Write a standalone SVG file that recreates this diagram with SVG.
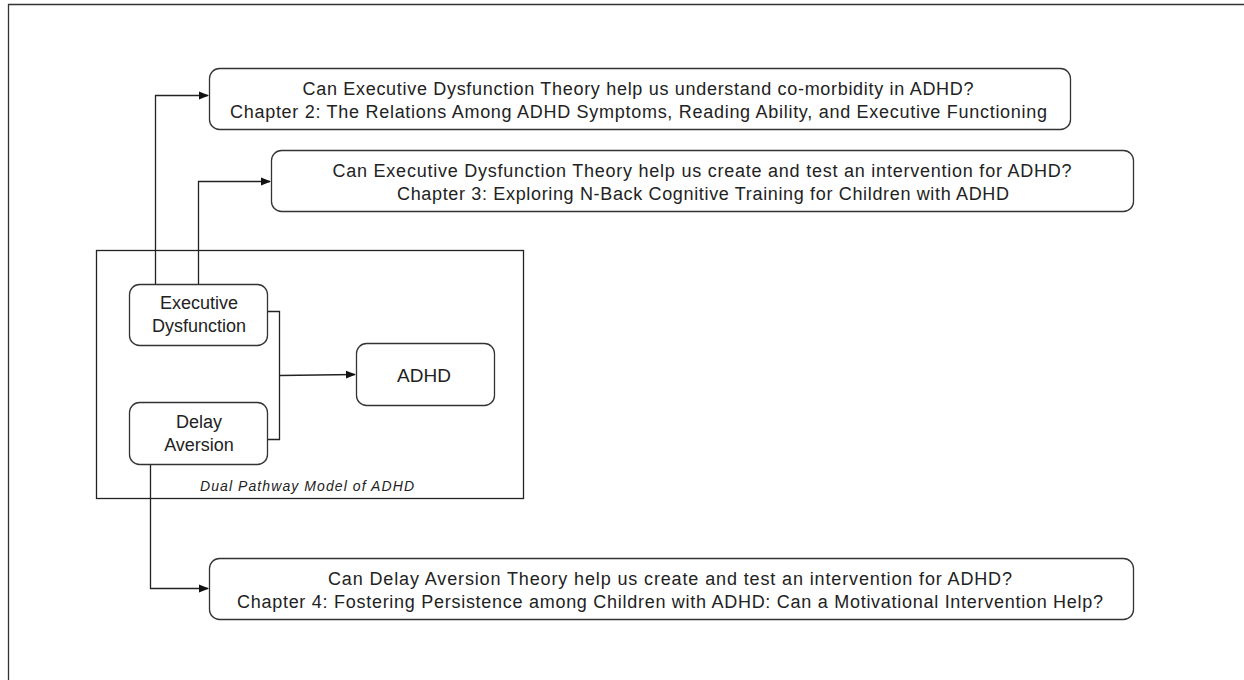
<svg xmlns="http://www.w3.org/2000/svg" width="1244" height="680" viewBox="0 0 1244 680">
<style>
.box{fill:#fff;stroke:#333;stroke-width:1.3}
.t{font-family:"Liberation Sans",Arial,sans-serif;font-size:18px;fill:#222;text-anchor:middle}
.c{fill:none;stroke:#222;stroke-width:1.3}
</style>
<defs>
<marker id="ah" markerWidth="10" markerHeight="10" refX="9" refY="5" orient="auto" markerUnits="userSpaceOnUse">
<path d="M0,1 L10,5 L0,9 Z" fill="#111"/>
</marker>
</defs>
<rect width="1244" height="680" fill="#fff"/>
<path d="M8.5,690 L8.5,4.5 L1250,4.5" fill="none" stroke="#333" stroke-width="1.3"/>
<g id="dual-frame">
<rect x="96.5" y="250.5" width="427" height="248" fill="none" stroke="#222" stroke-width="1.3"/>
<text x="307" y="491" class="t" style="font-size:14px;font-style:italic" textLength="214" lengthAdjust="spacing">Dual Pathway Model of ADHD</text>
</g>
<g id="ch2">
<rect class="box" x="209.5" y="68.5" width="861" height="61" rx="10"/>
<text class="t" x="638" y="95" textLength="671" lengthAdjust="spacing">Can Executive Dysfunction Theory help us understand co-morbidity in ADHD?</text>
<text class="t" x="638.5" y="118" textLength="817" lengthAdjust="spacing">Chapter 2: The Relations Among ADHD Symptoms, Reading Ability, and Executive Functioning</text>
</g>
<g id="ch3">
<rect class="box" x="271.5" y="150.5" width="862" height="61" rx="10"/>
<text class="t" x="702" y="177" textLength="739" lengthAdjust="spacing">Can Executive Dysfunction Theory help us create and test an intervention for ADHD?</text>
<text class="t" x="703" y="200" textLength="612" lengthAdjust="spacing">Chapter 3: Exploring N-Back Cognitive Training for Children with ADHD</text>
</g>
<g id="ch4">
<rect class="box" x="209.5" y="558.5" width="924" height="61" rx="10"/>
<text class="t" x="670" y="585" textLength="684" lengthAdjust="spacing">Can Delay Aversion Theory help us create and test an intervention for ADHD?</text>
<text class="t" x="670" y="608" textLength="866" lengthAdjust="spacing">Chapter 4: Fostering Persistence among Children with ADHD: Can a Motivational Intervention Help?</text>
</g>
<g id="exec">
<rect class="box" x="129.5" y="284.5" width="138" height="61" rx="10"/>
<text class="t" x="199" y="309">Executive</text>
<text class="t" x="199" y="332">Dysfunction</text>
</g>
<g id="delay">
<rect class="box" x="129.5" y="402.5" width="138" height="62" rx="10"/>
<text class="t" x="199" y="428">Delay</text>
<text class="t" x="199" y="451">Aversion</text>
</g>
<g id="adhd">
<rect class="box" x="356.5" y="343.5" width="138" height="62" rx="10"/>
<text class="t" x="424" y="382" style="font-size:19px">ADHD</text>
</g>
<g id="connectors">
<path class="c" d="M155.5,284 L155.5,95.5 L208,95.5" marker-end="url(#ah)"/>
<path class="c" d="M198.5,284 L198.5,181.5 L270,181.5" marker-end="url(#ah)"/>
<path class="c" d="M150.5,465 L150.5,588.5 L208,588.5" marker-end="url(#ah)"/>
<path class="c" d="M268,311.5 L279.5,311.5 L279.5,439.5 L268,439.5"/>
<path class="c" d="M279.5,375.5 L355,374.5" marker-end="url(#ah)"/>
</g>
</svg>
